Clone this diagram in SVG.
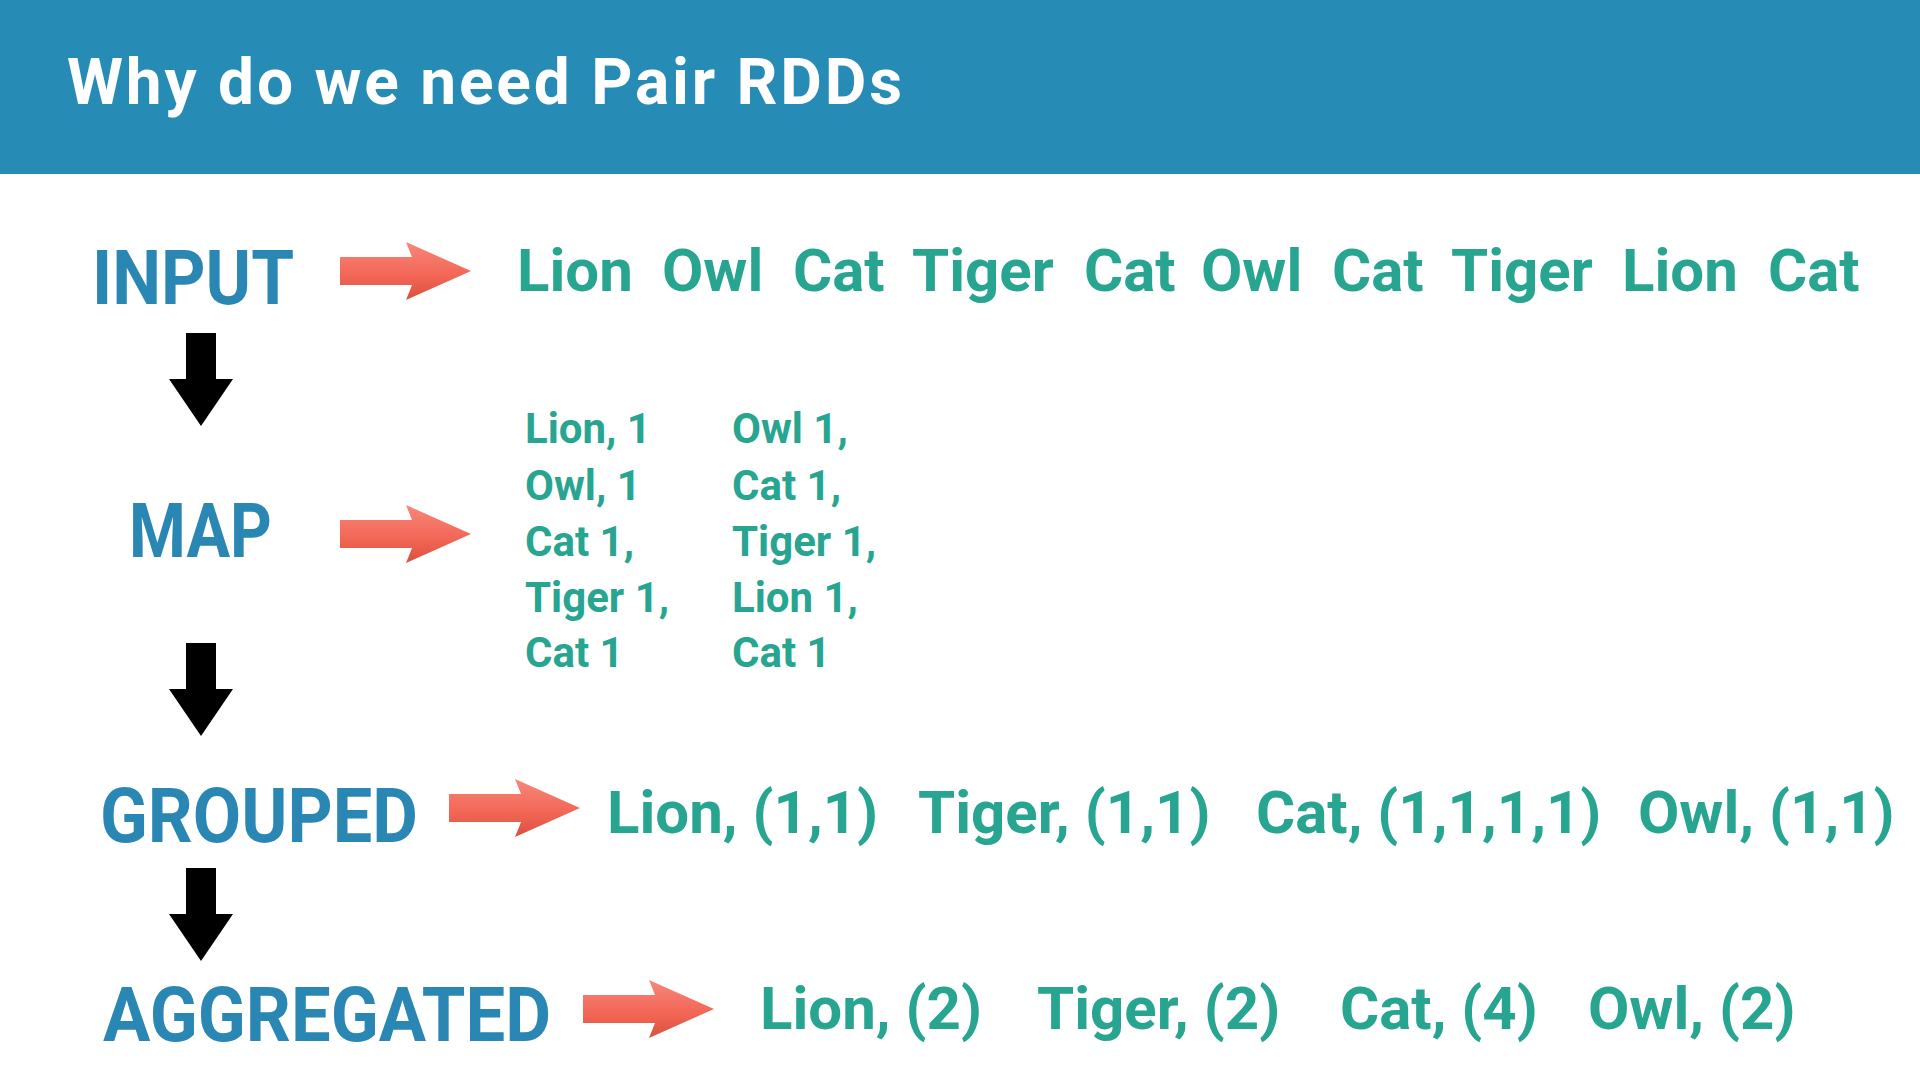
<svg xmlns="http://www.w3.org/2000/svg" width="1920" height="1080" viewBox="0 0 1920 1080">
<style>
.lbl{font-family:Roboto,"Liberation Sans",sans-serif;font-weight:bold;fill:#2a86b2;font-size:76px}
.w{font-family:Roboto,"Liberation Sans",sans-serif;font-weight:bold;fill:#27a591;font-size:60px}
.m{font-family:Roboto,"Liberation Sans",sans-serif;font-weight:bold;fill:#27a591;font-size:42px}
</style>
<defs>
<linearGradient id="rg" x1="0" y1="0" x2="0" y2="1"><stop offset="0" stop-color="#f8877a"/><stop offset="0.6" stop-color="#f26555"/><stop offset="1" stop-color="#d9503f"/></linearGradient>
<path id="ra" d="M0,-14 L72,-14 L66,-29 L131,0 L66,29 L72,14 L0,14 Z" fill="url(#rg)"/>
<path id="ba" d="M-15,0 L15,0 L15,46 L32,46 L0,93 L-32,46 L-15,46 Z" fill="#000"/>
</defs>
<rect width="1920" height="1080" fill="#fff"/>
<rect width="1920" height="174" fill="#268bb5"/>
<text x="67" y="104" style="font-family:Roboto,'Liberation Sans',sans-serif;font-weight:bold;font-size:64px;fill:#fff" textLength="835">Why do we need Pair RDDs</text>
<g id="input"><text class="lbl" x="92" y="304" textLength="202" lengthAdjust="spacingAndGlyphs">INPUT</text></g>
<g id="map"><text class="lbl" x="129" y="557" textLength="143" lengthAdjust="spacingAndGlyphs">MAP</text></g>
<g id="grouped"><text class="lbl" x="100" y="842" textLength="318" lengthAdjust="spacingAndGlyphs">GROUPED</text></g>
<g id="aggregated"><text class="lbl" x="103" y="1041" textLength="448" lengthAdjust="spacingAndGlyphs">AGGREGATED</text></g>
<g id="input-words">
<text class="w" x="517" y="291">Lion</text><text class="w" x="662" y="291">Owl</text><text class="w" x="793" y="291">Cat</text><text class="w" x="912" y="291">Tiger</text><text class="w" x="1084" y="291">Cat</text><text class="w" x="1201" y="291">Owl</text><text class="w" x="1332" y="291">Cat</text><text class="w" x="1451" y="291">Tiger</text><text class="w" x="1622" y="291">Lion</text><text class="w" x="1768" y="291">Cat</text>
</g>
<g id="map-words">
<text class="m" x="525" y="443">Lion, 1</text><text class="m" x="525" y="500">Owl, 1</text><text class="m" x="525" y="556">Cat 1,</text><text class="m" x="525" y="612">Tiger 1,</text><text class="m" x="525" y="667">Cat 1</text>
<text class="m" x="732" y="443">Owl 1,</text><text class="m" x="732" y="500">Cat 1,</text><text class="m" x="732" y="556">Tiger 1,</text><text class="m" x="732" y="612">Lion 1,</text><text class="m" x="732" y="667">Cat 1</text>
</g>
<g id="grouped-words">
<text class="w" x="607" y="833">Lion, (1,1)</text><text class="w" x="918" y="833">Tiger, (1,1)</text><text class="w" x="1256" y="833">Cat, (1,1,1,1)</text><text class="w" x="1638" y="833">Owl, (1,1)</text>
</g>
<g id="aggregated-words">
<text class="w" x="760" y="1029">Lion, (2)</text><text class="w" x="1037" y="1029">Tiger, (2)</text><text class="w" x="1340" y="1029">Cat, (4)</text><text class="w" x="1588" y="1029">Owl, (2)</text>
</g>
<g id="connectors">
<use href="#ra" transform="translate(340,271)"/>
<use href="#ra" transform="translate(340,534)"/>
<use href="#ra" transform="translate(449,808)"/>
<use href="#ra" transform="translate(583,1009)"/>
<use href="#ba" transform="translate(201,333)"/>
<use href="#ba" transform="translate(201,643)"/>
<use href="#ba" transform="translate(201,868)"/>
</g>
</svg>
